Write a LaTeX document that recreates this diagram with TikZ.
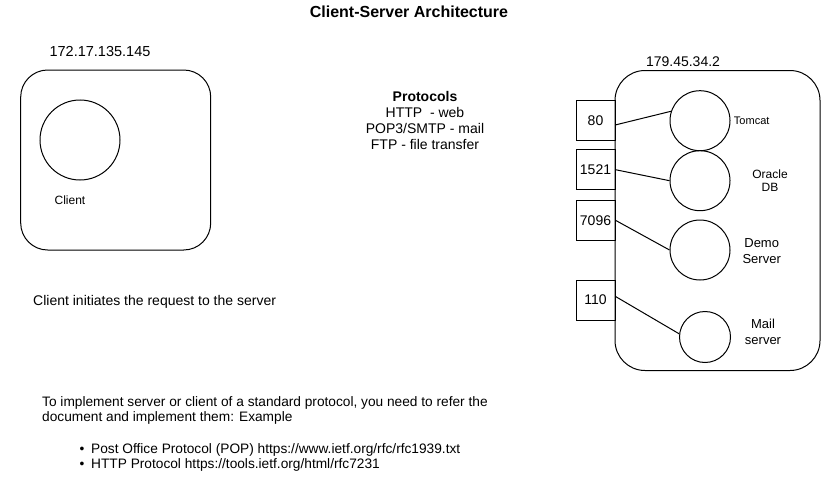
\documentclass[tikz,border=0pt]{standalone}
\usepackage{fontspec}
\setmainfont{Liberation Sans}
\usetikzlibrary{positioning,calc}
\tikzset{
  hostbox/.style={draw, line width=1pt, rounded corners=#1, inner sep=0pt},
  svc/.style={circle, draw, line width=1pt, minimum size=60pt, inner sep=0pt},
  portbox/.style={rectangle, draw, line width=1pt, minimum width=39pt, minimum height=40pt, inner sep=0pt, font=\fontsize{14}{16}\selectfont},
  txt/.style={inner sep=0pt, font=\fontsize{14}{16}\selectfont},
  note/.style={inner sep=0pt, font=\fontsize{13.7}{15.5}\selectfont},
  small/.style={inner sep=0pt, align=center, font=\fontsize{#1}{#1}\selectfont},
  wire/.style={line width=1pt},
}
\begin{document}
\begin{tikzpicture}[x=1pt, y=-1pt]
\useasboundingbox (0,0) rectangle (821,487);
\node[inner sep=0pt, font=\bfseries\fontsize{16}{19}\selectfont] (title) at (409,12) {Client-Server Architecture};
% client side
\node[inner sep=0pt, font=\fontsize{14.5}{17}\selectfont] (clientip) at (100,52) {172.17.135.145};
\node[hostbox=27pt, minimum width=190pt, minimum height=180pt] (clienthost) at (115.7,160) {};
\node[svc, minimum size=80pt] (client) at (80,140) {};
\node[small=12] (clientlbl) at (70,200) {Client};
% protocols
\node[txt, align=center] (protocols) at (425,120) {\textbf{Protocols}\\HTTP~ - web\\POP3/SMTP - mail\\FTP - file transfer};
% server side
\node[inner sep=0pt, font=\fontsize{14}{16}\selectfont] (serverip) at (683,62) {179.45.34.2};
\node[hostbox=30pt, minimum width=205pt, minimum height=300pt] (serverhost) at (717.5,220.5) {};
\node[portbox] (p80) at (595.5,120.3) {80};
\node[portbox] (p1521) at (595.5,169.7) {1521};
\node[portbox] (p7096) at (595.5,220.3) {7096};
\node[portbox] (p110) at (595.5,300) {110};
\node[svc] (tomcat) at (700,120.7) {};
\node[svc] (oracle) at (700,180.7) {};
\node[svc] (demo) at (700,250) {};
\node[svc, minimum size=51pt] (mail) at (705,337) {};
\node[small=11] (tomcatlbl) at (751.7,120.7) {Tomcat};
\node[small=12, font=\fontsize{12}{13}\selectfont] (oraclelbl) at (770,180.7) {Oracle\\DB};
\node[small=13, font=\fontsize{13}{16}\selectfont] (demolbl) at (761.7,251) {Demo\\Server};
\node[small=13, font=\fontsize{13}{16}\selectfont] (maillbl) at (763,331.7) {Mail\\server};
\draw[wire] (p80.-13) -- (tomcat.162);
\draw[wire] (p1521.east) -- (oracle.west);
\draw[wire] (p7096.east) -- (demo.west);
\draw[wire] (p110.10) -- (mail.173);
% notes
\node[txt, anchor=west] (initnote) at (33,301.7) {Client initiates the request to the server};
\node[note, anchor=west, align=left] (implnote) at (42,410.5) {To implement server or client of a standard protocol, you need to refer the\\document and implement them: Example};
\node[note] (bul1) at (82,450) {•};
\node[note, anchor=west] (popref) at (91,450) {Post Office Protocol (POP) https://www.ietf.org/rfc/rfc1939.txt};
\node[note] (bul2) at (82,465) {•};
\node[note, anchor=west] (httpref) at (91,465) {HTTP Protocol https://tools.ietf.org/html/rfc7231};
\end{tikzpicture}
\end{document}
